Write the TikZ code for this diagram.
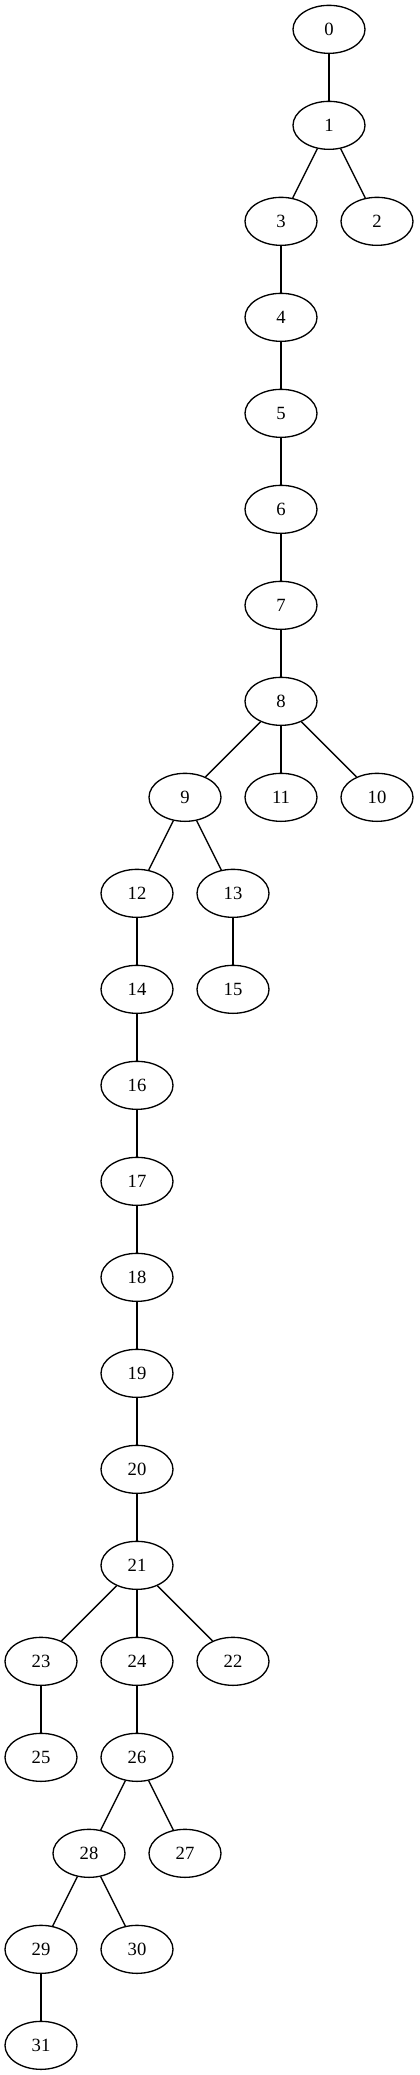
\documentclass[tikz,border=0pt]{standalone}
\usepackage{fontspec}
\setmainfont{Liberation Serif}
\usetikzlibrary{shapes.geometric}
\begin{document}
\begin{tikzpicture}[x=1pt,y=1pt,
  vtx/.style={draw,ellipse,line width=1pt,minimum width=54pt,minimum height=36pt,inner sep=0pt,font=\fontsize{14}{16}\selectfont},
  edge/.style={line width=1pt}]
\useasboundingbox (0,0) rectangle (314.25,-1556.25);
\def\R#1{-(22+72*#1)}
\node[vtx] (n0) at (246.75,{\R{0}}) {0};
\node[vtx] (n1) at (246.75,{\R{1}}) {1};
\node[vtx] (n3) at (210.75,{\R{2}}) {3};
\node[vtx] (n2) at (282.75,{\R{2}}) {2};
\node[vtx] (n4) at (210.75,{\R{3}}) {4};
\node[vtx] (n5) at (210.75,{\R{4}}) {5};
\node[vtx] (n6) at (210.75,{\R{5}}) {6};
\node[vtx] (n7) at (210.75,{\R{6}}) {7};
\node[vtx] (n8) at (210.75,{\R{7}}) {8};
\node[vtx] (n9) at (138.75,{\R{8}}) {9};
\node[vtx] (n11) at (210.75,{\R{8}}) {11};
\node[vtx] (n10) at (282.75,{\R{8}}) {10};
\node[vtx] (n12) at (102.75,{\R{9}}) {12};
\node[vtx] (n13) at (174.75,{\R{9}}) {13};
\node[vtx] (n14) at (102.75,{\R{10}}) {14};
\node[vtx] (n15) at (174.75,{\R{10}}) {15};
\node[vtx] (n16) at (102.75,{\R{11}}) {16};
\node[vtx] (n17) at (102.75,{\R{12}}) {17};
\node[vtx] (n18) at (102.75,{\R{13}}) {18};
\node[vtx] (n19) at (102.75,{\R{14}}) {19};
\node[vtx] (n20) at (102.75,{\R{15}}) {20};
\node[vtx] (n21) at (102.75,{\R{16}}) {21};
\node[vtx] (n23) at (30.75,{\R{17}}) {23};
\node[vtx] (n24) at (102.75,{\R{17}}) {24};
\node[vtx] (n22) at (174.75,{\R{17}}) {22};
\node[vtx] (n25) at (30.75,{\R{18}}) {25};
\node[vtx] (n26) at (102.75,{\R{18}}) {26};
\node[vtx] (n28) at (66.75,{\R{19}}) {28};
\node[vtx] (n27) at (138.75,{\R{19}}) {27};
\node[vtx] (n29) at (30.75,{\R{20}}) {29};
\node[vtx] (n30) at (102.75,{\R{20}}) {30};
\node[vtx] (n31) at (30.75,{\R{21}}) {31};
\foreach \a/\b in {0/1,1/3,1/2,3/4,4/5,5/6,6/7,7/8,8/9,8/11,8/10,9/12,9/13,12/14,13/15,14/16,16/17,17/18,18/19,19/20,20/21,21/23,21/24,21/22,23/25,24/26,26/28,26/27,28/29,28/30,29/31}
  \draw[edge] (n\a) -- (n\b);
\end{tikzpicture}
\end{document}
